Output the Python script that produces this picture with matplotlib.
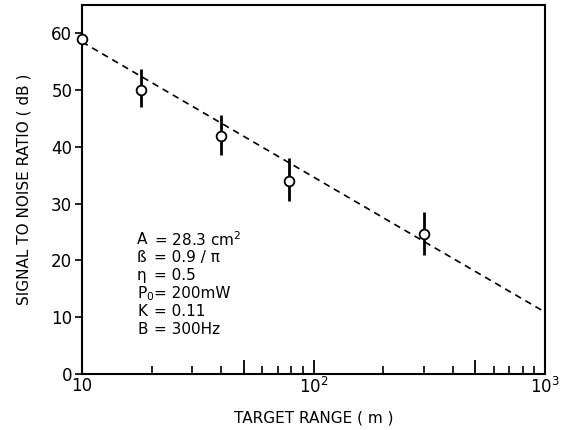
import matplotlib
matplotlib.use("Agg")
import matplotlib.pyplot as plt
from matplotlib.ticker import FixedLocator, NullFormatter

# data
range_m = [10, 18, 40, 78, 300]
snr_db = [59, 50, 42, 34, 24.7]
err_lo = [0, 3, 3.5, 3.5, 3.7]
err_hi = [0, 3.7, 3.7, 4.0, 3.9]
fit_x = [10, 1000]
fit_y = [58.5, 10.9]
y_ticks = [0, 10, 20, 30, 40, 50, 60]
x_major = [10, 100, 1000]
x_major_labels = ["10", r"$10^2$", r"$10^3$"]
x_mid = [50, 500]
x_minor = [20, 30, 40, 60, 70, 80, 90, 200, 300, 400, 600, 700, 800, 900]
param_names = ["A", "ß", "η", "P$_0$", "K", "B"]
param_values = ["= 28.3 cm$^2$", "= 0.9 / π", "= 0.5", "= 200mW", "= 0.11", "= 300Hz"]

plt.rcParams['font.family'] = ['DejaVu Sans']
fig = plt.figure(figsize=(5.74, 4.30), dpi=100)
ax = fig.add_axes([82/574, 56/430, (545-82)/574, (374-5)/430])

ax.plot(fit_x, fit_y, ls=(0, (4, 3)), color='black', lw=1.2, zorder=2)
ax.errorbar(range_m, snr_db, yerr=[err_lo, err_hi], fmt='o', mfc='white', mec='black',
            ms=7, mew=1.3, ecolor='black', elinewidth=2.0, capsize=0, zorder=3, clip_on=False)

ax.set_xscale('log')
ax.set_xlim(10, 1000)
ax.set_ylim(0, 65)
ax.set_yticks(y_ticks)
ax.tick_params(axis='y', direction='out', length=5, width=1.2, labelsize=12, pad=2)

ax.xaxis.set_major_locator(FixedLocator(x_major))
ax.set_xticklabels(x_major_labels)
ax.xaxis.set_minor_locator(FixedLocator(x_minor))
ax.xaxis.set_minor_formatter(NullFormatter())
ax.tick_params(axis='x', which='major', direction='in', length=10, width=1.3, labelsize=12, pad=2)
ax.tick_params(axis='x', which='minor', direction='in', length=5.5, width=1.2)
for xm in x_mid:
    ax.plot([xm], [0], marker=2, ms=10, mew=1.3, color='black', clip_on=False)

for s in ax.spines.values():
    s.set_linewidth(1.5)

ax.set_ylabel("SIGNAL TO NOISE RATIO ( dB )", fontsize=11, labelpad=14)
ax.set_xlabel("TARGET RANGE ( m )", fontsize=11, labelpad=10)

for i, (n, v) in enumerate(zip(param_names, param_values)):
    y = 0.365 - i*0.049
    ax.text(0.119, y, n, transform=ax.transAxes, fontsize=11, va='center', ha='left')
    ax.text(0.155, y, v, transform=ax.transAxes, fontsize=11, va='center', ha='left')

fig.savefig("out.png", dpi=100)
